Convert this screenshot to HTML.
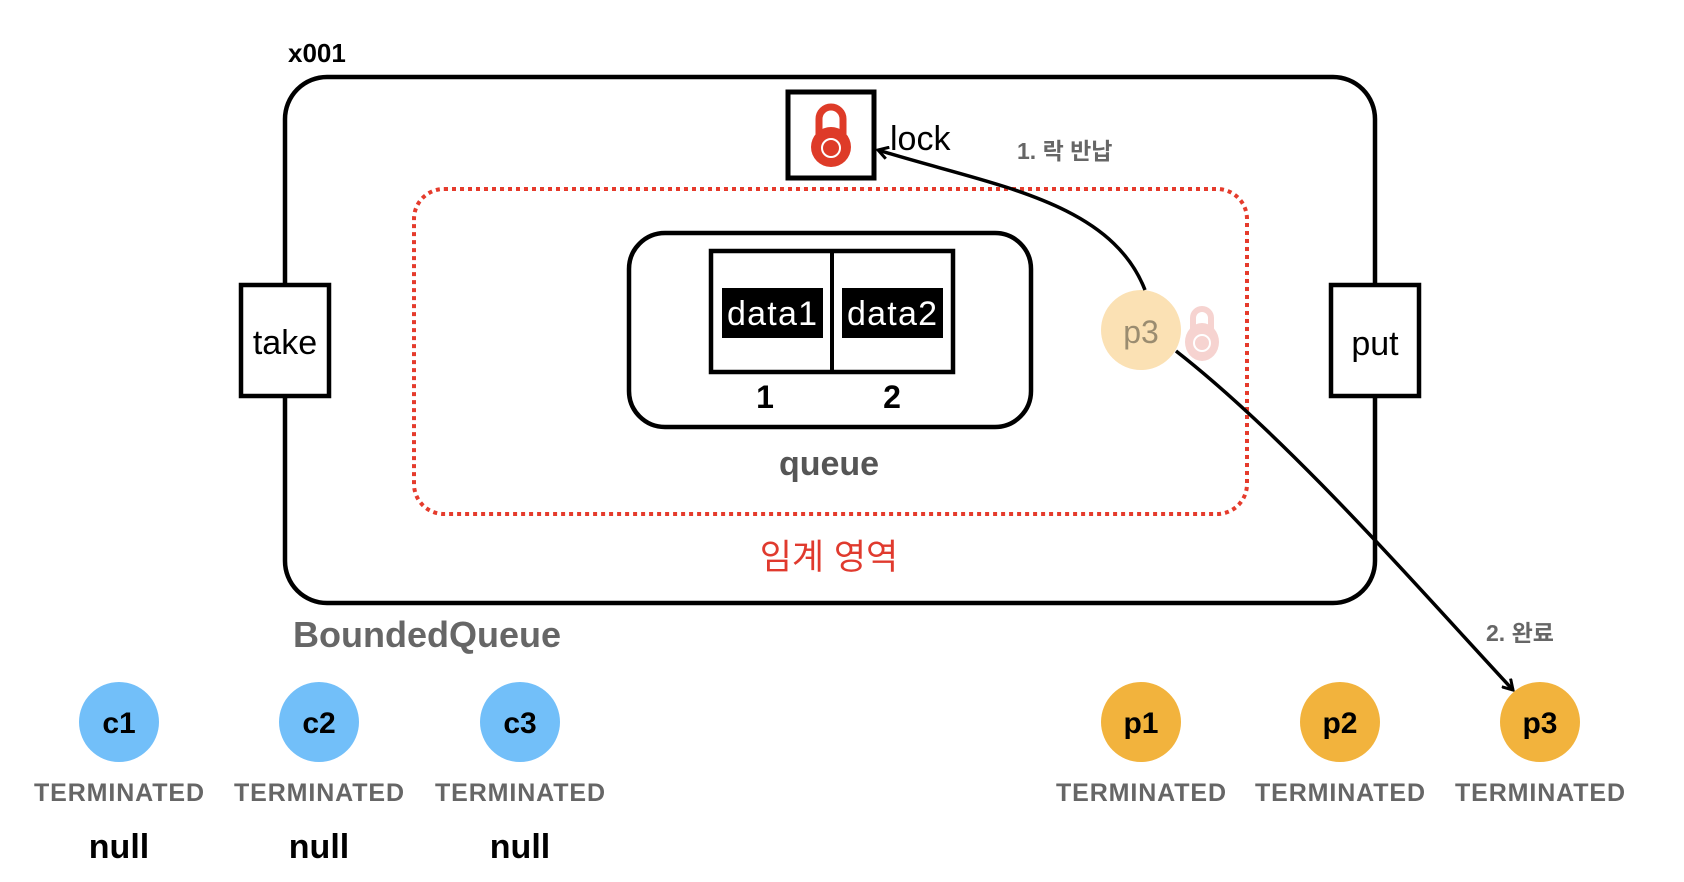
<!DOCTYPE html>
<html><head><meta charset="utf-8"><style>
html,body{margin:0;padding:0;background:#fff;}
svg{display:block;}
text{font-family:"Liberation Sans","Noto Sans CJK KR",sans-serif;}
</style></head><body>
<svg width="1684" height="882" viewBox="0 0 1684 882" xmlns="http://www.w3.org/2000/svg">
<defs>
<marker id="ah" markerWidth="14" markerHeight="14" refX="11" refY="7" orient="auto" markerUnits="userSpaceOnUse">
<path d="M1,1 L11,7 L1,13" fill="none" stroke="#000" stroke-width="3"/>
</marker>
</defs>
<text x="288" y="62" font-size="26" font-weight="bold" fill="#000">x001</text>
<rect x="285" y="77" width="1090" height="526" rx="42" fill="none" stroke="#000" stroke-width="4.5"/>
<rect x="414" y="189" width="833" height="325" rx="30" fill="none" stroke="#e53b2c" stroke-width="4" stroke-dasharray="4 4"/>
<rect x="629" y="233" width="402" height="194" rx="36" fill="none" stroke="#000" stroke-width="4.5"/>
<rect x="711" y="251" width="242" height="121" fill="none" stroke="#000" stroke-width="4.5"/>
<line x1="832" y1="251" x2="832" y2="372" stroke="#000" stroke-width="4"/>
<rect x="722" y="288" width="101" height="50" fill="#000"/>
<rect x="842" y="288" width="101" height="50" fill="#000"/>
<text x="772" y="325" font-size="34" fill="#fff" text-anchor="middle" textLength="90">data1</text>
<text x="892" y="325" font-size="34" fill="#fff" text-anchor="middle" textLength="90">data2</text>
<text x="765" y="408" font-size="32" font-weight="bold" text-anchor="middle">1</text>
<text x="892" y="408" font-size="32" font-weight="bold" text-anchor="middle">2</text>
<text x="829" y="475" font-size="34" font-weight="bold" fill="#555" text-anchor="middle">queue</text>
<text x="829" y="569" font-size="35" fill="#e03a2e" text-anchor="middle">임계 영역</text>
<rect x="241" y="285" width="88" height="111" fill="#fff" stroke="#000" stroke-width="4.5"/>
<text x="285" y="354" font-size="34" text-anchor="middle">take</text>
<rect x="1331" y="285" width="88" height="111" fill="#fff" stroke="#000" stroke-width="4.5"/>
<text x="1375" y="355" font-size="34" text-anchor="middle">put</text>
<rect x="788" y="92" width="86" height="86" fill="#fff" stroke="#000" stroke-width="5"/>
<path d="M819,135 v-16 a12,12 0 0 1 24,0 v16" fill="none" stroke="#de3b28" stroke-width="7"/>
<circle cx="831" cy="147" r="20" fill="#de3b28"/>
<circle cx="831" cy="148" r="9" fill="none" stroke="#fff" stroke-width="2"/>
<text x="890" y="150" font-size="34" fill="#000">lock</text>
<text x="1017" y="159" font-size="23" font-weight="bold" fill="#666">1. 락 반납</text>
<circle cx="1141" cy="330" r="40" fill="#fbe1b4"/>
<text x="1141" y="343" font-size="32" fill="#9a8c70" text-anchor="middle">p3</text>
<path d="M1193,330 v-12 a9,9 0 0 1 18,0 v12" fill="none" stroke="#f6d3d0" stroke-width="6"/>
<ellipse cx="1202" cy="342" rx="17" ry="19" fill="#f6d3d0"/>
<circle cx="1202" cy="343" r="8" fill="none" stroke="#fff" stroke-width="2"/>
<path d="M1145,290 C1110,200 990,185 878,150" fill="none" stroke="#000" stroke-width="3.5" marker-end="url(#ah)"/>
<path d="M1176,351 C1290,440 1420,590 1513,690" fill="none" stroke="#000" stroke-width="3.5" marker-end="url(#ah)"/>
<text x="1486" y="641" font-size="23" font-weight="bold" fill="#666">2. 완료</text>
<text x="293" y="647" font-size="36" font-weight="bold" fill="#666">BoundedQueue</text>
<g font-weight="bold" text-anchor="middle">
<circle cx="119" cy="722" r="40" fill="#72bff9"/><text x="119" y="733" font-size="30">c1</text>
<circle cx="319" cy="722" r="40" fill="#72bff9"/><text x="319" y="733" font-size="30">c2</text>
<circle cx="520" cy="722" r="40" fill="#72bff9"/><text x="520" y="733" font-size="30">c3</text>
<circle cx="1141" cy="722" r="40" fill="#f2b33d"/><text x="1141" y="733" font-size="30">p1</text>
<circle cx="1340" cy="722" r="40" fill="#f2b33d"/><text x="1340" y="733" font-size="30">p2</text>
<circle cx="1540" cy="722" r="40" fill="#f2b33d"/><text x="1540" y="733" font-size="30">p3</text>
<g font-size="25" fill="#666">
<text x="119" y="801" textLength="170">TERMINATED</text><text x="319" y="801" textLength="170">TERMINATED</text><text x="520" y="801" textLength="170">TERMINATED</text>
<text x="1141" y="801" textLength="170">TERMINATED</text><text x="1340" y="801" textLength="170">TERMINATED</text><text x="1540" y="801" textLength="170">TERMINATED</text>
</g>
<g font-size="34" fill="#000">
<text x="119" y="858">null</text><text x="319" y="858">null</text><text x="520" y="858">null</text>
</g>
</g>
</svg>
</body></html>
